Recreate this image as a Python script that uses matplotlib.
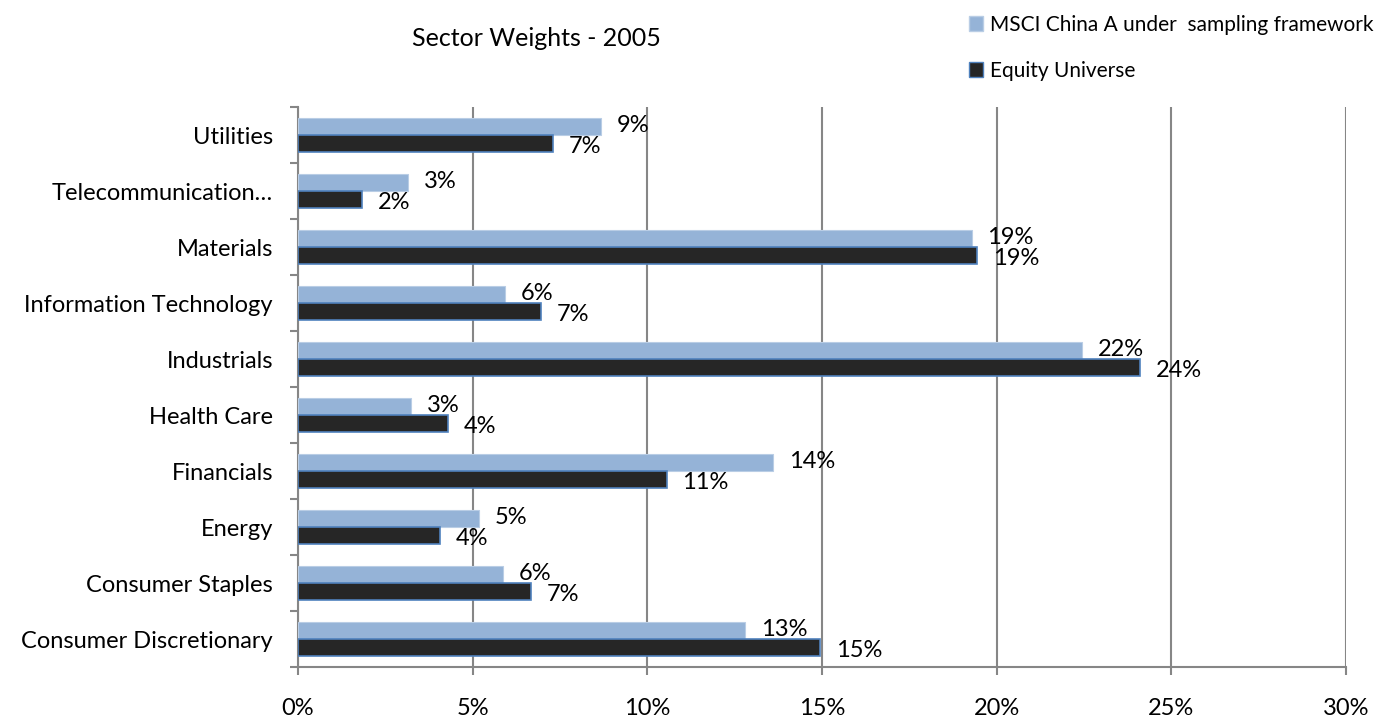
import numpy as np
from matplotlib import pyplot as plt
from matplotlib.patches import Patch

# sectors listed bottom -> top
sectors = ["Consumer Discretionary", "Consumer Staples", "Energy", "Financials",
           "Health Care", "Industrials", "Information Technology", "Materials",
           "Telecommunication\u2026", "Utilities"]
msci = [12.8, 5.87, 5.17, 13.6, 3.23, 22.45, 5.93, 19.28, 3.15, 8.67]
equity = [14.94, 6.66, 4.06, 10.55, 4.29, 24.1, 6.95, 19.45, 1.83, 7.3]
series_names = ["MSCI China A under  sampling framework", "Equity Universe"]
xticks = [0, 5, 10, 15, 20, 25, 30]

plt.rcParams['font.family'] = ['Lato', 'DejaVu Sans']
light = '#95b3d7'
dark = '#262626'
grid = '#868686'

fig = plt.figure(figsize=(13.97, 7.23), dpi=100)
ax = fig.add_axes([298 / 1397, 1 - 667 / 723, 1048 / 1397, 560 / 723])

y = np.arange(len(sectors))
h = 0.3
ax.barh(y + h / 2, msci, height=h, color=light, edgecolor='#b9cde5', linewidth=0.8, zorder=3)
ax.barh(y - h / 2, equity, height=h, color=dark, edgecolor='#4f81bd', linewidth=1.2, zorder=3)

for yi, v in zip(y, msci):
    ax.text(v + 0.45, yi + h / 2 + 0.02, f"{v:.0f}%", va='center', ha='left', fontsize=17, zorder=4)
for yi, v in zip(y, equity):
    ax.text(v + 0.45, yi - h / 2 - 0.05, f"{v:.0f}%", va='center', ha='left', fontsize=17, zorder=4)

ax.set_xlim(0, 30)
ax.set_ylim(-0.5, len(sectors) - 0.5)
ax.set_xticks(xticks)
ax.set_xticklabels([f"{t}%" for t in xticks], fontsize=17)
ax.set_yticks(y)
ax.set_yticklabels(sectors, fontsize=17)
ax.set_yticks(np.arange(-0.5, len(sectors)), minor=True)

ax.tick_params(axis='y', which='major', length=0, pad=18)
ax.tick_params(axis='y', which='minor', length=6, color=grid, width=1.5, direction='out')
ax.tick_params(axis='x', which='major', length=6, color=grid, width=1.5, pad=16)

ax.grid(axis='x', color=grid, linewidth=1.5, zorder=0)
for s in ['top', 'right']:
    ax.spines[s].set_visible(False)
for s in ['left', 'bottom']:
    ax.spines[s].set_color(grid)
    ax.spines[s].set_linewidth(1.5)

fig.text(536 / 1397, 1 - 38 / 723, "Sector Weights - 2005", ha='center', va='center', fontsize=18)

handles = [Patch(facecolor=light, edgecolor='#b9cde5'), Patch(facecolor=dark, edgecolor='#4f81bd')]
fig.legend(handles, series_names, loc='upper left', bbox_to_anchor=(950 / 1397, 1 + 4 / 723),
           frameon=False, fontsize=15, handlelength=0.7, handleheight=0.7,
           handletextpad=0.3, labelspacing=1.25)

fig.savefig('out.png', dpi=100)
